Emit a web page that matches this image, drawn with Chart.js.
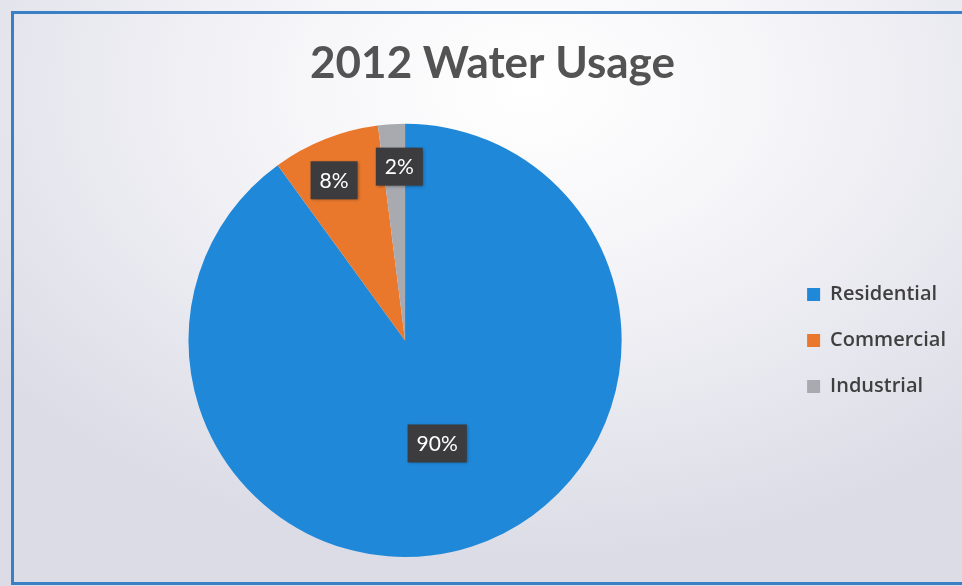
<!DOCTYPE html>
<html>
<head>
<meta charset="utf-8">
<script src="https://cdn.jsdelivr.net/npm/chart.js@4/dist/chart.umd.min.js"></script>
<style>
  html, body { margin: 0; padding: 0; width: 962px; height: 586px; overflow: hidden; background: #f4f4f6; }
  #wrap { position: absolute; left: 0; top: 0; width: 962px; height: 586px;
    background: radial-gradient(ellipse 70% 80% at 55% 15%, #ffffff 0%, #f6f6f9 35%, #e6e6ee 75%, #dcdce6 100%); }
  #frame { position: absolute; left: 11px; top: 11px; width: 960px; height: 574px;
    border: 3px solid #3b7fc4; box-sizing: border-box; pointer-events: none; }
  canvas { position: absolute; left: 0; top: 0; }
</style>
</head>
<body>
<div id="wrap"><canvas id="c" width="962" height="586"></canvas><div id="frame"></div></div>
<script>
const categories = ["Residential", "Commercial", "Industrial"];
const usagePercent = [90, 8, 2];
const sliceColors = ["#1f88d9", "#e9782c", "#a9a9b0"];

const labelBoxes = {
  id: 'labelBoxes',
  afterDatasetsDraw(chart, args, opts) {
    const ctx = chart.ctx;
    const meta = chart.getDatasetMeta(0);
    ctx.save();
    ctx.font = opts.font;
    ctx.textAlign = 'center';
    ctx.textBaseline = 'middle';
    meta.data.forEach((arc, i) => {
      const p = arc.getProps(['x', 'y', 'startAngle', 'endAngle', 'outerRadius']);
      const mid = (p.startAngle + p.endAngle) / 2;
      const r = p.outerRadius * opts.radiusFrac[i];
      const cx = p.x + Math.cos(mid) * r + opts.shift[i][0];
      const cy = p.y + Math.sin(mid) * r + opts.shift[i][1];
      const text = chart.data.datasets[0].data[i] + '%';
      const w = ctx.measureText(text).width + opts.padX * 2;
      const h = opts.boxH;
      ctx.shadowColor = 'rgba(0,0,0,0.35)';
      ctx.shadowBlur = 3;
      ctx.shadowOffsetX = 1;
      ctx.shadowOffsetY = 1;
      ctx.fillStyle = opts.boxColor;
      ctx.fillRect(cx - w / 2, cy - h / 2, w, h);
      ctx.shadowColor = 'transparent';
      ctx.fillStyle = opts.textColor;
      ctx.fillText(text, cx, cy + 1);
    });
    ctx.restore();
  }
};

new Chart(document.getElementById('c'), {
  type: 'pie',
  data: {
    labels: categories,
    datasets: [{
      data: usagePercent,
      backgroundColor: sliceColors,
      borderWidth: 0
    }]
  },
  options: {
    responsive: false,
    animation: false,
    layout: { padding: { top: 37, bottom: 29, left: 29, right: 6 } },
    plugins: {
      title: {
        display: true,
        text: '2012 Water Usage',
        color: '#535353',
        font: { family: 'Lato', size: 44, weight: 'bold' },
        padding: { top: 0, bottom: 34 }
      },
      legend: {
        position: 'right',
        align: 'center',
        fullSize: false,
        labels: {
          boxWidth: 13,
          boxHeight: 13,
          padding: 26,
          color: '#3f3f3f',
          font: { family: 'Open Sans', size: 20, weight: '600' }
        }
      },
      tooltip: { enabled: false },
      labelBoxes: {
        font: '21px Lato',
        radiusFrac: [0.51, 0.79, 0.79],
        shift: [[-2, -2], [-8, -1], [5, -3]],
        padX: 9,
        boxH: 38,
        boxColor: '#3c3c3e',
        textColor: '#ffffff'
      }
    }
  },
  plugins: [labelBoxes]
});
</script>
</body>
</html>
